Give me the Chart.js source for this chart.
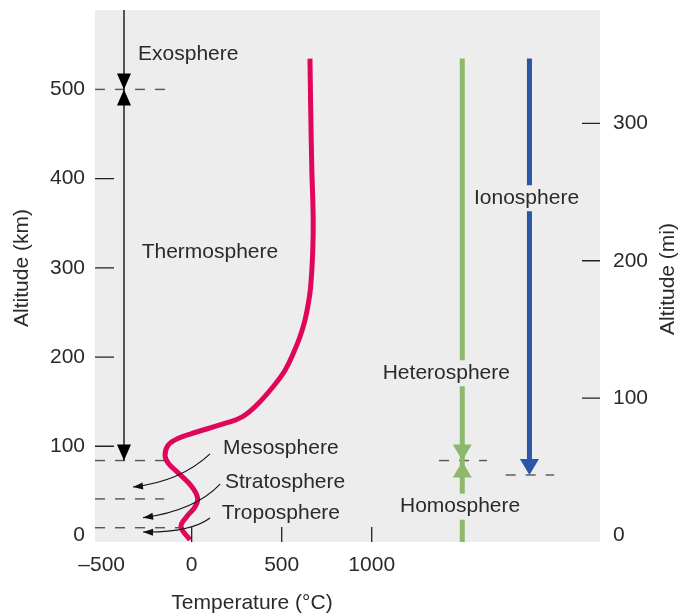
<!DOCTYPE html>
<html lang="en">
  <head>
    <meta charset="UTF-8" />
    <title>Atmosphere Layers</title>
    <style>
      body { margin: 0; background: #ffffff; }
      canvas { display: block; }
    </style>
    <script src="https://cdn.jsdelivr.net/npm/chart.js"></script>
  </head>
  <body>
    <canvas id="atmoChart" width="692" height="616"></canvas>

    <script>
      // temperature profile (°C vs km)
      const curveTemp = [-9, -59, -28, 18, 33, 0, -74, -130, -148, -130, -74, 28, 157, 280, 370, 453, 518, 564, 602, 630, 648, 661, 672, 675, 667, 661, 657];
      const curveAlt = [-5, 10, 21, 32, 42, 55, 70, 81, 90, 101.5, 109, 116, 124, 133, 148, 167, 185, 204, 223, 242, 260, 279, 316, 354, 413, 480, 534.5];

      const xTicks = [-500, 0, 500, 1000];
      const kmTicks = [0, 100, 200, 300, 400, 500];
      const miTicks = [0, 100, 200, 300];

      // layer boundaries (km)
      const exoBase = 500;
      const mesoTop = 84;
      const stratoTop = 41;
      const tropoTop = 8.7;
      const ionoBase = 67.8;
      const lineTop = 534.5;

      // where the vertical markers sit on the temperature axis
      const layerLineT = -376;
      const mixLineT = 1503;
      const ionoLineT = 1876;

      const RED = "#e0065a";
      const GREEN = "#8cb96b";
      const BLUE = "#2a56a5";
      const FONT = "'Liberation Sans', Arial, sans-serif";
      const TXT = "#2a2a2a";

      const X_MIN = -537, X_MAX = 2268, Y_MIN = -7.3, Y_MAX = 589;

      // text labels: [text, T, km, gap behind text]
      const labels = [
        ["Exosphere", -298, 540, false],
        ["Thermosphere", -278, 317.6, false],
        ["Mesosphere", 174, 98, false],
        ["Stratosphere", 185, 60.2, false],
        ["Troposphere", 167, 25.2, false],
        ["Ionosphere", 1568, 378, true],
        ["Heterosphere", 1061, 181.8, true],
        ["Homosphere", 1157, 32.3, true],
      ];

      // curved pointer arrows: start, control, end (T, km)
      const pointers = [
        [[102, 91.4], [-65, 60], [-326, 54.4]],
        [[158, 57.7], [18, 28], [-270, 20]],
        [[102, 19.6], [-9, 3], [-270, 3.9]],
      ];

      function seg(x1, y1, x2, y2, color, width, dash) {
        return {
          data: [{ x: x1, y: y1 }, { x: x2, y: y2 }],
          showLine: true,
          borderColor: color,
          borderWidth: width,
          borderDash: dash || [],
          borderCapStyle: "butt",
          pointRadius: 0,
        };
      }

      const dashCol = "#555";
      const datasets = [
        {
          data: curveTemp.map((t, i) => ({ x: t, y: curveAlt[i] })),
          showLine: true,
          borderColor: RED,
          borderWidth: 5,
          tension: 0.4,
          pointRadius: 0,
          borderCapStyle: "butt",
        },
        seg(layerLineT, Y_MAX, layerLineT, mesoTop, "#222", 1.5),
        seg(mixLineT, lineTop, mixLineT, Y_MIN, GREEN, 5),
        seg(ionoLineT, lineTop, ionoLineT, ionoBase + 8, BLUE, 5),
        seg(X_MIN, exoBase, -120, exoBase, dashCol, 1.4, [10, 10]),
        seg(X_MIN, mesoTop, -139, mesoTop, dashCol, 1.4, [10, 10]),
        seg(X_MIN, stratoTop, -153, stratoTop, dashCol, 1.4, [10, 10]),
        seg(X_MIN, tropoTop, -55, tropoTop, dashCol, 1.4, [10, 10]),
        seg(1374, mesoTop, 1641, mesoTop, dashCol, 1.4, [10, 10]),
        seg(1744, ionoBase, 2013, ionoBase, dashCol, 1.4, [10, 10]),
      ];

      function tri(ctx, x, y, w, h, dir, color) {
        // apex at (x,y), dir 1 = pointing down, -1 = pointing up
        ctx.beginPath();
        ctx.moveTo(x, y);
        ctx.lineTo(x - w / 2, y - dir * h);
        ctx.lineTo(x + w / 2, y - dir * h);
        ctx.closePath();
        ctx.fillStyle = color;
        ctx.fill();
      }

      const bgPlugin = {
        id: "bg",
        beforeDraw(chart) {
          const { ctx, chartArea: a } = chart;
          ctx.save();
          ctx.fillStyle = "#ededed";
          ctx.fillRect(a.left, a.top, a.right - a.left, a.bottom - a.top);
          ctx.restore();
        },
      };

      const markPlugin = {
        id: "marks",
        afterDatasetsDraw(chart) {
          const { ctx, chartArea: a, scales } = chart;
          const X = (v) => scales.x.getPixelForValue(v);
          const Y = (v) => scales.y.getPixelForValue(v);
          const Y2 = (v) => scales.y2.getPixelForValue(v);
          ctx.save();

          // tick marks drawn inside the plot
          ctx.strokeStyle = "#222";
          ctx.lineWidth = 1.3;
          ctx.beginPath();
          kmTicks.filter((v) => v > 0 && v < 500).forEach((v) => {
            ctx.moveTo(a.left, Y(v));
            ctx.lineTo(a.left + 19, Y(v));
          });
          miTicks.filter((v) => v > 0).forEach((v) => {
            ctx.moveTo(a.right - 18, Y2(v));
            ctx.lineTo(a.right, Y2(v));
          });
          xTicks.filter((v) => v >= 0).forEach((v) => {
            ctx.moveTo(X(v), a.bottom);
            ctx.lineTo(X(v), a.bottom - 15);
          });
          ctx.stroke();

          // arrow heads
          tri(ctx, X(layerLineT), Y(exoBase), 14, 16, 1, "#000");
          tri(ctx, X(layerLineT), Y(exoBase), 14, 16, -1, "#000");
          tri(ctx, X(layerLineT), Y(mesoTop), 14, 16, 1, "#000");
          tri(ctx, X(mixLineT), Y(mesoTop), 19, 16, 1, GREEN);
          tri(ctx, X(mixLineT), Y(mesoTop) + 1, 19, 16, -1, GREEN);
          tri(ctx, X(ionoLineT), Y(ionoBase), 19, 16, 1, BLUE);

          // curved pointers
          ctx.strokeStyle = "#111";
          ctx.lineWidth = 1.1;
          pointers.forEach(([s, c, e]) => {
            const sx = X(s[0]), sy = Y(s[1]);
            const cx = X(c[0]), cy = Y(c[1]);
            const ex = X(e[0]), ey = Y(e[1]);
            ctx.beginPath();
            ctx.moveTo(sx, sy);
            ctx.quadraticCurveTo(cx, cy, ex, ey);
            ctx.stroke();
            const ang = Math.atan2(ey - cy, ex - cx);
            const L = 10, W = 3.5;
            ctx.beginPath();
            ctx.moveTo(ex, ey);
            ctx.lineTo(ex - L * Math.cos(ang) + W * Math.sin(ang), ey - L * Math.sin(ang) - W * Math.cos(ang));
            ctx.lineTo(ex - L * Math.cos(ang) - W * Math.sin(ang), ey - L * Math.sin(ang) + W * Math.cos(ang));
            ctx.closePath();
            ctx.fillStyle = "#111";
            ctx.fill();
          });

          // text labels
          ctx.font = "21px " + FONT;
          ctx.textBaseline = "middle";
          ctx.textAlign = "left";
          labels.forEach(([txt, t, km, gap]) => {
            const px = X(t), py = Y(km);
            if (gap) {
              const w = ctx.measureText(txt).width;
              ctx.fillStyle = "#ededed";
              ctx.fillRect(px - 2, py - 13, w + 4, 26);
            }
            ctx.fillStyle = TXT;
            ctx.fillText(txt, px, py);
          });

          // axis titles
          ctx.textAlign = "center";
          ctx.fillText("Temperature (\u00b0C)", 252, 603);
          ctx.save();
          ctx.translate(22, 268);
          ctx.rotate(-Math.PI / 2);
          ctx.fillText("Altitude (km)", 0, 0);
          ctx.restore();
          ctx.save();
          ctx.translate(668, 279);
          ctx.rotate(-Math.PI / 2);
          ctx.fillText("Altitude (mi)", 0, 0);
          ctx.restore();

          ctx.restore();
        },
      };

      const tickFont = { family: FONT, size: 21 };
      const noPad = (s) => { s.paddingTop = 0; s.paddingBottom = 0; s.paddingLeft = 0; s.paddingRight = 0; };

      new Chart(document.getElementById("atmoChart"), {
        type: "scatter",
        data: { datasets },
        options: {
          responsive: false,
          animation: false,
          layout: { padding: { top: 10, left: 0, right: 0, bottom: 0 } },
          plugins: { legend: { display: false }, tooltip: { enabled: false } },
          scales: {
            x: {
              type: "linear",
              min: X_MIN,
              max: X_MAX,
              afterBuildTicks: (s) => { s.ticks = xTicks.map((v) => ({ value: v })); },
              afterFit: (s) => { s.height = 74; noPad(s); },
              grid: { display: false, drawTicks: false },
              border: { display: false },
              ticks: {
                font: tickFont,
                color: TXT,
                padding: 11,
                maxRotation: 0,
                callback: (v) => (v < 0 ? "\u2013" + -v : String(v)),
              },
            },
            y: {
              type: "linear",
              position: "left",
              min: Y_MIN,
              max: Y_MAX,
              afterBuildTicks: (s) => { s.ticks = kmTicks.map((v) => ({ value: v })); },
              afterFit: (s) => { s.width = 95; noPad(s); },
              grid: { display: false, drawTicks: false },
              border: { display: false },
              ticks: { font: tickFont, color: TXT, padding: 10 },
            },
            y2: {
              type: "linear",
              position: "right",
              min: -4.7,
              max: 382.5,
              afterBuildTicks: (s) => { s.ticks = miTicks.map((v) => ({ value: v })); },
              afterFit: (s) => { s.width = 92; noPad(s); },
              grid: { display: false, drawTicks: false },
              border: { display: false },
              ticks: { font: tickFont, color: TXT, padding: 13 },
            },
          },
        },
        plugins: [bgPlugin, markPlugin],
      });
    </script>
  </body>
</html>
